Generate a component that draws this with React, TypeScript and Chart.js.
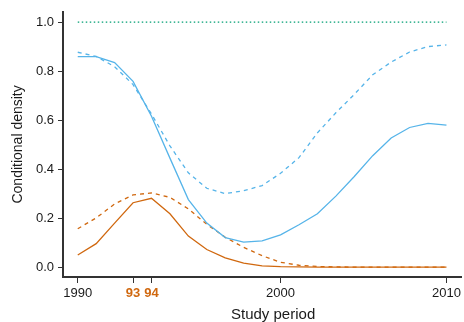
import React, { useEffect, useRef } from "react";
import { Chart, registerables } from "chart.js";

Chart.register(...registerables);

const years = [1990, 1991, 1992, 1993, 1994, 1995, 1996, 1997, 1998, 1999, 2000, 2001, 2002, 2003, 2004, 2005, 2006, 2007, 2008, 2009, 2010];

const blueSolid = [0.859, 0.859, 0.835, 0.758, 0.616, 0.445, 0.276, 0.18, 0.121, 0.102, 0.107, 0.132, 0.173, 0.218, 0.29, 0.37, 0.455, 0.527, 0.57, 0.587, 0.58];
const blueDashed = [0.877, 0.86, 0.818, 0.745, 0.625, 0.495, 0.385, 0.322, 0.3, 0.312, 0.333, 0.383, 0.447, 0.548, 0.63, 0.705, 0.785, 0.837, 0.878, 0.9, 0.907];
const orangeSolid = [0.05, 0.096, 0.18, 0.263, 0.281, 0.218, 0.127, 0.072, 0.038, 0.017, 0.005, 0.002, 0.001, 0.0005, 0.0003, 0.0002, 0.0001, 0.0001, 0.0001, 0.0001, 0.0001];
const orangeDashed = [0.157, 0.201, 0.258, 0.295, 0.303, 0.285, 0.238, 0.175, 0.122, 0.081, 0.047, 0.02, 0.008, 0.003, 0.001, 0.0005, 0.0003, 0.0002, 0.0001, 0.0001, 0.0001];
const upperBound = [1, 1, 1, 1, 1, 1, 1, 1, 1, 1, 1, 1, 1, 1, 1, 1, 1, 1, 1, 1, 1];

const xTickValues = [1990, 1993, 1994, 2001, 2010];
const xTickLabels = ["1990", "93", "94", "2000", "2010"];
const xTickHighlighted = [false, true, true, false, false];
const yTickValues = [0, 0.2, 0.4, 0.6, 0.8, 1.0];
const xTitle = "Study period";
const yTitle = "Conditional density";

const BLUE = "#56B4E9";
const ORANGE = "#D0680F";
const TEAL = "#009E73";
const AXIS = "#333333";
const TEXT = "#1a1a1a";
const FONT = "'Liberation Sans', Arial, Helvetica, sans-serif";

const toPoints = (vals: number[]) => years.map((x, i) => ({ x, y: vals[i] }));

const xTitlePlugin = {
  id: "xTitlePlugin",
  afterDraw(chart: any) {
    const { ctx, chartArea } = chart;
    ctx.save();
    ctx.font = `15px ${FONT}`;
    ctx.fillStyle = TEXT;
    ctx.textAlign = "center";
    ctx.textBaseline = "middle";
    ctx.fillText(xTitle, (chartArea.left + chartArea.right) / 2 + 11, chartArea.bottom + 38);
    ctx.restore();
  },
};

export default function App() {
  const ref = useRef<HTMLCanvasElement | null>(null);

  useEffect(() => {
    if (!ref.current) return;
    const chart = new Chart(ref.current, {
      type: "line",
      data: {
        datasets: [
          { data: toPoints(upperBound), borderColor: TEAL, borderWidth: 1.3, borderDash: [1.5, 2.5], pointRadius: 0, tension: 0, fill: false },
          { data: toPoints(blueSolid), borderColor: BLUE, borderWidth: 1.3, pointRadius: 0, tension: 0, fill: false },
          { data: toPoints(blueDashed), borderColor: BLUE, borderWidth: 1.3, borderDash: [4, 4], pointRadius: 0, tension: 0, fill: false },
          { data: toPoints(orangeSolid), borderColor: ORANGE, borderWidth: 1.3, pointRadius: 0, tension: 0, fill: false },
          { data: toPoints(orangeDashed), borderColor: ORANGE, borderWidth: 1.3, borderDash: [4, 4], pointRadius: 0, tension: 0, fill: false },
        ],
      },
      options: {
        responsive: false,
        animation: false,
        layout: { padding: { top: 10, right: 2, left: 0, bottom: 0 } },
        plugins: { legend: { display: false }, tooltip: { enabled: false } },
        scales: {
          x: {
            type: "linear",
            min: 1989.2,
            max: 2010.8,
            afterBuildTicks: (scale: any) => {
              scale.ticks = xTickValues.map((v) => ({ value: v }));
            },
            afterFit: (scale: any) => {
              scale.height = 45;
            },
            grid: { drawOnChartArea: false, drawTicks: true, tickLength: 6, color: AXIS, lineWidth: 1 },
            border: { display: true, color: AXIS, width: 2 },
            ticks: {
              autoSkip: false,
              maxRotation: 0,
              padding: 3,
              callback: (_v: any, i: number) => xTickLabels[i],
              color: (ctx: any) => (xTickHighlighted[ctx.index] ? ORANGE : TEXT),
              font: (ctx: any) => ({ family: FONT, size: 13, weight: xTickHighlighted[ctx.index] ? "bold" : "normal" }),
            },
            title: { display: false },
          },
          y: {
            type: "linear",
            min: -0.04,
            max: 1.042,
            afterBuildTicks: (scale: any) => {
              scale.ticks = yTickValues.map((v) => ({ value: v }));
            },
            afterFit: (scale: any) => {
              scale.width = 63;
            },
            grid: { drawOnChartArea: false, drawTicks: true, tickLength: 5, color: AXIS, lineWidth: 1 },
            border: { display: true, color: AXIS, width: 2 },
            ticks: {
              padding: 4,
              color: TEXT,
              font: { family: FONT, size: 13 },
              callback: (v: any) => Number(v).toFixed(1),
            },
            title: { display: true, text: yTitle, color: TEXT, font: { family: FONT, size: 14 }, padding: { top: 10, bottom: 0 } },
          },
        },
      },
      plugins: [xTitlePlugin],
    });
    return () => chart.destroy();
  }, []);

  return (
    <div style={{ position: "fixed", left: 0, top: 0, width: 464, height: 322, background: "#fff" }}>
      <canvas ref={ref} width={464} height={322} style={{ display: "block", width: 464, height: 322 }} />
    </div>
  );
}
